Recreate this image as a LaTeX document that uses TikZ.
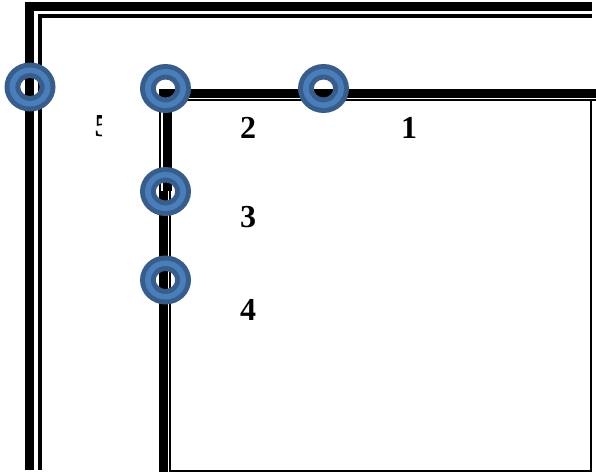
\documentclass[tikz,border=0pt]{standalone}
\usepackage{fontspec}
\setmainfont{Liberation Serif}
\definecolor{ringdark}{HTML}{385D8A}
\definecolor{ringlight}{HTML}{4A7EBB}
\tikzset{
  numlabel/.style={font=\fontsize{24}{24}\selectfont\bfseries, inner sep=0pt},
  thickwall/.style={fill=black},
}
\begin{document}
\begin{tikzpicture}[x=.75pt, y=-.75pt]
    \useasboundingbox (0, 0) rectangle (596, 473);
    % outer wall
    \fill[thickwall] (25, 2) rectangle (592, 11);
    \fill[thickwall] (25, 2) rectangle (34, 470);
    \fill[thickwall] (38, 14) rectangle (592, 18);
    \fill[thickwall] (38, 14) rectangle (42, 470);
    % inner wall
    \fill[thickwall] (159, 89) rectangle (596, 98);
    \fill[thickwall] (163, 89) rectangle (172, 191);
    \fill[thickwall] (159, 191) rectangle (168, 472);
    \fill[thickwall] (159, 99) rectangle (160.5, 191);
    \fill[thickwall] (163, 99) rectangle (596, 101);
    \fill[thickwall] (169, 191) rectangle (171, 472);
    \fill[thickwall] (169, 470) rectangle (592, 472);
    \fill[thickwall] (590, 99) rectangle (592, 472);
    % rings
    \foreach \i/\x/\y in {one/323.5/88.5, two/165.5/88.5, three/165.5/191.5, four/165.5/280, five/30/87} {
            \fill[ringdark, even odd rule] (\x, \y) ellipse [x radius=25.5, y radius=24.5]
                (\x, \y) ellipse [x radius=9.7, y radius=9];
            \fill[ringlight, even odd rule] (\x, \y) ellipse [x radius=20.5, y radius=19.5]
                (\x, \y) ellipse [x radius=14.7, y radius=14];
        }
    % labels
    \node[numlabel] (lblone) at (409, 128) {1};
    \node[numlabel] (lbltwo) at (248, 128) {2};
    \node[numlabel] (lblthree) at (248, 217) {3};
    \node[numlabel] (lblfour) at (248, 310) {4};
    \begin{scope}
        \clip (80, 105) rectangle (101, 145);
        \node[numlabel] (lblfive) at (102.5, 126.5) {5};
    \end{scope}
\end{tikzpicture}
\end{document}
